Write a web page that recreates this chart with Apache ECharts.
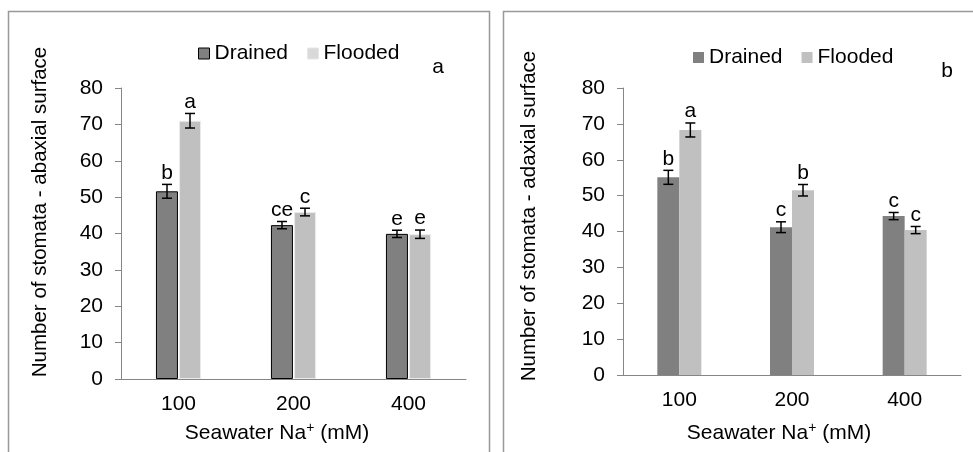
<!DOCTYPE html>
<html>
<head>
<meta charset="utf-8">
<script src="https://cdn.jsdelivr.net/npm/echarts@6/dist/echarts.min.js"></script>
<style>html,body{margin:0;padding:0;background:#fff;}#c{width:973px;height:452px;}</style>
</head>
<body>
<div id="c"></div>
<script>
var categories = ['100', '200', '400'];
var yTicks = [0, 10, 20, 30, 40, 50, 60, 70, 80];

var drainedA = [51.6, 42.3, 39.9];
var floodedA = [71.0, 45.9, 39.8];
var errDrainedA = [1.9, 1.0, 1.0];
var errFloodedA = [2.0, 1.05, 1.15];
var lettersDrainedA = ['b', 'ce', 'e'];
var lettersFloodedA = ['a', 'c', 'e'];

var drainedB = [55.1, 41.2, 44.3];
var floodedB = [68.3, 51.5, 40.4];
var errDrainedB = [1.95, 1.5, 1.0];
var errFloodedB = [1.95, 1.6, 1.0];
var lettersDrainedB = ['b', 'c', 'c'];
var lettersFloodedB = ['a', 'b', 'c'];

var FONT = 'Liberation Sans, Arial, sans-serif';
var FS = 21;
var BAR_W = 22;
var AXIS_C = '#868686';

function errSeries(grid, vals, errs, letters, side, gap) {
  var data = vals.map(function (v, i) { return [i, v, errs[i], letters[i]]; });
  return {
    type: 'custom',
    xAxisIndex: grid, yAxisIndex: grid,
    silent: true, z: 10,
    data: data,
    renderItem: function (params, api) {
      var i = api.value(0), v = api.value(1), e = api.value(2);
      var letter = data[params.dataIndex][3];
      var base = api.coord([i, v]);
      var x = base[0] + side * (BAR_W / 2 + gap / 2);
      var top = api.coord([i, v + e])[1];
      var bot = api.coord([i, v - e])[1];
      var cw = 5;
      var st = { stroke: '#000', lineWidth: 1.5 };
      return {
        type: 'group',
        children: [
          { type: 'line', shape: { x1: x, y1: top, x2: x, y2: bot }, style: st },
          { type: 'line', shape: { x1: x - cw, y1: top, x2: x + cw, y2: top }, style: st },
          { type: 'line', shape: { x1: x - cw, y1: bot, x2: x + cw, y2: bot }, style: st },
          { type: 'text', style: { text: letter, x: x, y: top - 1, align: 'center', verticalAlign: 'bottom',
            font: FS + 'px ' + FONT, fill: '#000' } }
        ]
      };
    }
  };
}

function yAxis(grid) {
  return {
    type: 'value', gridIndex: grid, min: 0, max: 80, interval: 10,
    axisLine: { show: true, lineStyle: { color: AXIS_C, width: 1 } },
    axisTick: { show: true, length: 6, lineStyle: { color: AXIS_C } },
    splitLine: { show: false },
    axisLabel: { fontSize: FS, fontFamily: FONT, color: '#000', margin: 18,
      formatter: function (v) { return yTicks.indexOf(v) >= 0 ? String(v) : ''; } }
  };
}
function xAxis(grid) {
  return {
    type: 'category', gridIndex: grid, data: categories,
    axisLine: { show: true, lineStyle: { color: AXIS_C, width: 1 } },
    axisTick: { show: false },
    axisLabel: { fontSize: FS, fontFamily: FONT, color: '#000', margin: 15 }
  };
}

var option = {
  animation: false,
  backgroundColor: '#fff',
  grid: [
    { left: 121, top: 88, width: 345, height: 291 },
    { left: 623, top: 88, width: 338, height: 287 }
  ],
  xAxis: [xAxis(0), xAxis(1)],
  yAxis: [yAxis(0), yAxis(1)],
  legend: [
    { left: 198, top: 43, padding: 0, itemWidth: 11, itemHeight: 11, itemGap: 19, icon: 'rect',
      textStyle: { fontSize: FS, fontFamily: FONT, color: '#000' },
      data: [{ name: 'Drained', itemStyle: { color: '#808080', borderColor: '#000', borderWidth: 1 } },
             { name: 'Flooded', itemStyle: { color: '#d9d9d9', borderColor: '#e6e6e6', borderWidth: 1 } }] },
    { left: 693, top: 47, padding: 0, itemWidth: 11, itemHeight: 11, itemGap: 19, icon: 'rect',
      textStyle: { fontSize: FS, fontFamily: FONT, color: '#000' },
      data: [{ name: 'Drained', itemStyle: { color: '#808080', borderWidth: 0 } },
             { name: 'Flooded', itemStyle: { color: '#c0c0c0', borderWidth: 0 } }] }
  ],
  series: [
    { name: 'Drained', type: 'bar', xAxisIndex: 0, yAxisIndex: 0, data: drainedA, barWidth: BAR_W, barGap: '5%',
      itemStyle: { color: '#808080', borderColor: '#000', borderWidth: 1 } },
    { name: 'Flooded', type: 'bar', xAxisIndex: 0, yAxisIndex: 0, data: floodedA, barWidth: BAR_W, barGap: '5%',
      itemStyle: { color: '#c0c0c0', borderColor: '#ebebeb', borderWidth: 1 } },
    { name: 'Drained', type: 'bar', xAxisIndex: 1, yAxisIndex: 1, data: drainedB, barWidth: BAR_W, barGap: '0%',
      itemStyle: { color: '#808080' } },
    { name: 'Flooded', type: 'bar', xAxisIndex: 1, yAxisIndex: 1, data: floodedB, barWidth: BAR_W, barGap: '0%',
      itemStyle: { color: '#c0c0c0' } },
    errSeries(0, drainedA, errDrainedA, lettersDrainedA, -1, 1),
    errSeries(0, floodedA, errFloodedA, lettersFloodedA, 1, 1),
    errSeries(1, drainedB, errDrainedB, lettersDrainedB, -1, 0),
    errSeries(1, floodedB, errFloodedB, lettersFloodedB, 1, 0)
  ],
  graphic: [
    { type: 'rect', shape: { x: 8.5, y: 11.5, width: 481, height: 470 }, style: { fill: 'none', stroke: '#999', lineWidth: 1.5 }, silent: true },
    { type: 'rect', shape: { x: 503.5, y: 11.5, width: 480, height: 470 }, style: { fill: 'none', stroke: '#999', lineWidth: 1.5 }, silent: true },
    { type: 'text', x: 40, y: 212, rotation: Math.PI / 2,
      style: { text: 'Number of stomata - abaxial surface', font: '20.5px ' + FONT, fill: '#000', align: 'center', verticalAlign: 'middle' } },
    { type: 'text', x: 529, y: 216, rotation: Math.PI / 2,
      style: { text: 'Number of stomata - adaxial surface', font: '20.5px ' + FONT, fill: '#000', align: 'center', verticalAlign: 'middle' } },
    { type: 'text', x: 277, y: 433,
      style: { text: '{a|Seawater Na}{s|+}{a| (mM)}', align: 'center', verticalAlign: 'middle',
        rich: { a: { fontSize: FS, fontFamily: FONT, fill: '#000' }, s: { fontSize: 14, fontFamily: FONT, fill: '#000', padding: [0, 0, 9, 0] } } } },
    { type: 'text', x: 779, y: 433,
      style: { text: '{a|Seawater Na}{s|+}{a| (mM)}', align: 'center', verticalAlign: 'middle',
        rich: { a: { fontSize: FS, fontFamily: FONT, fill: '#000' }, s: { fontSize: 14, fontFamily: FONT, fill: '#000', padding: [0, 0, 9, 0] } } } },
    { type: 'text', x: 438, y: 67, style: { text: 'a', font: FS + 'px ' + FONT, fill: '#000', align: 'center', verticalAlign: 'middle' } },
    { type: 'text', x: 947, y: 71, style: { text: 'b', font: FS + 'px ' + FONT, fill: '#000', align: 'center', verticalAlign: 'middle' } }
  ]
};
var chart = echarts.init(document.getElementById('c'), null, { renderer: 'canvas' });
chart.setOption(option);
</script>
</body>
</html>
